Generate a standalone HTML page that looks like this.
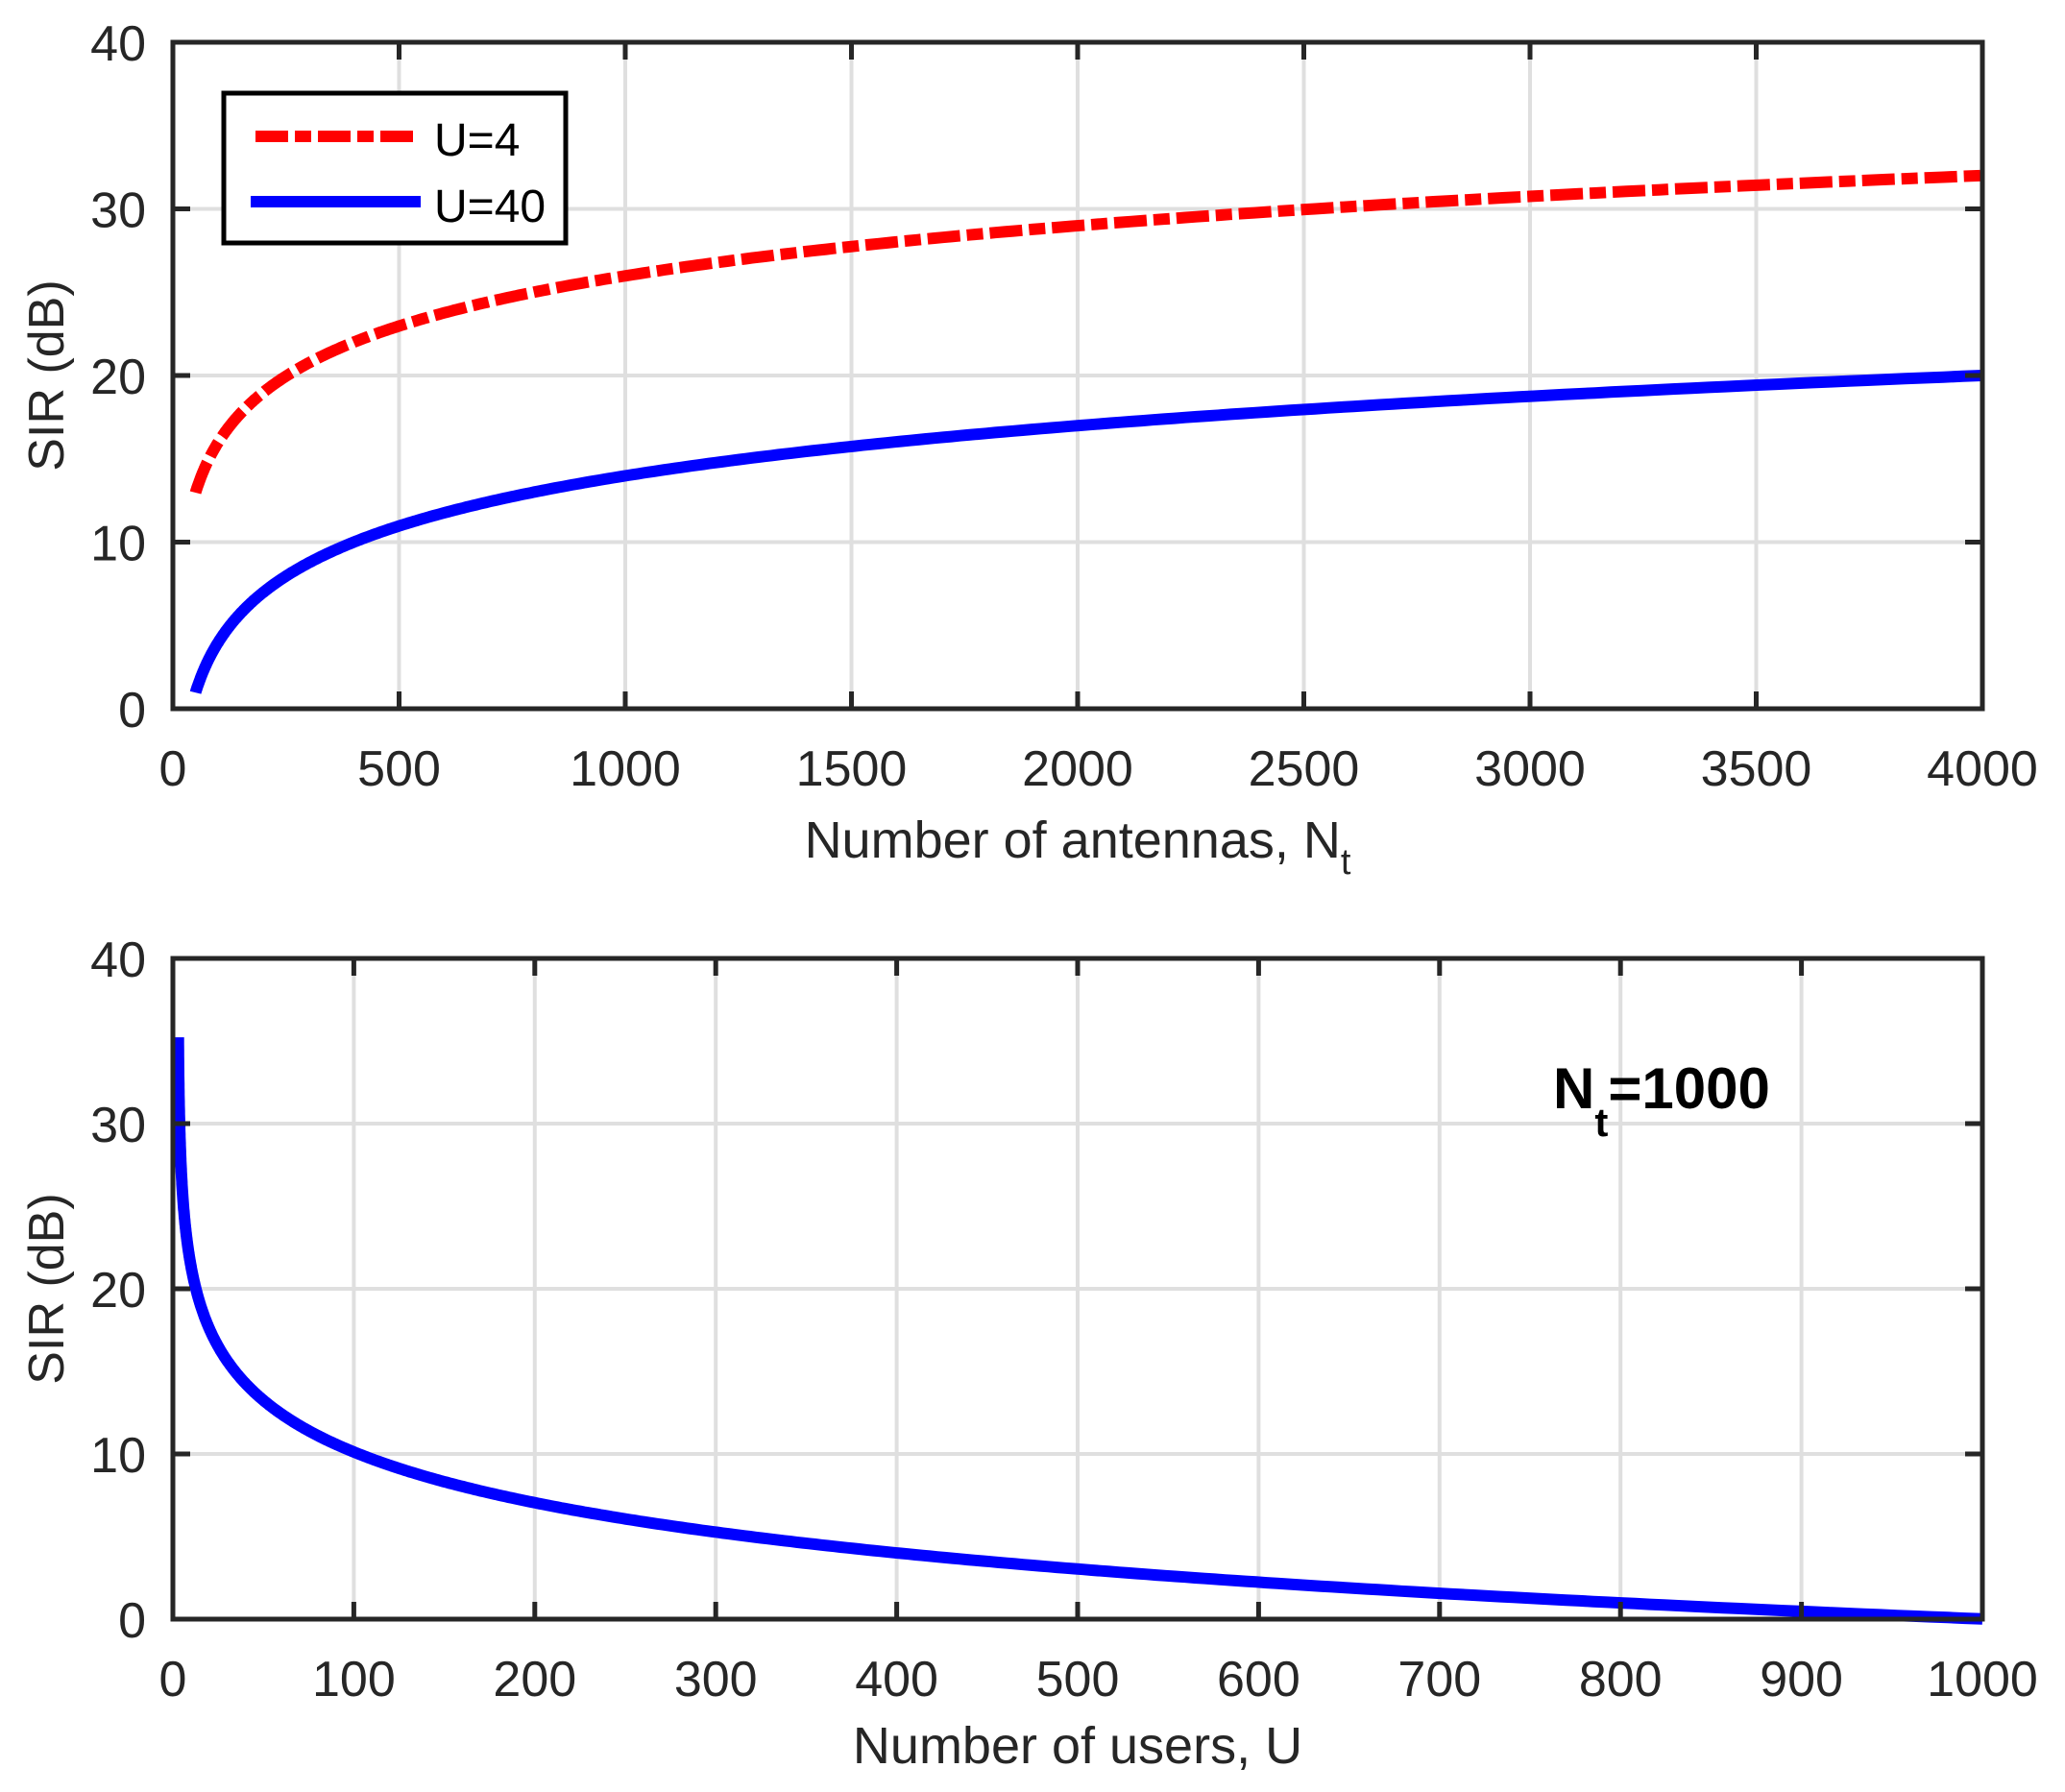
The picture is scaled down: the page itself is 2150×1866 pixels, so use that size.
<!DOCTYPE html>
<html><head><meta charset="utf-8"><style>
html,body{margin:0;padding:0;background:#fff;}
svg{display:block;}
text{font-family:"Liberation Sans",sans-serif;fill:#262626;}
</style></head><body>
<svg id="s" width="2150" height="1866" viewBox="0 0 2150 1866" xmlns="http://www.w3.org/2000/svg"></svg>
<script>
const s=document.getElementById('s');let h='';
const L=180,R=2064;
function axes(top,bot,xmax,xstep,ticks){
  const H=bot-top;
  for(let v=10;v<40;v+=10){const y=bot-v/40*H;h+=`<line x1="${L}" x2="${R}" y1="${y}" y2="${y}" stroke="#dfdfdf" stroke-width="4"/>`;}
  for(let i=1;i<ticks;i++){const x=L+i/ticks*(R-L);h+=`<line x1="${x}" x2="${x}" y1="${top}" y2="${bot}" stroke="#dfdfdf" stroke-width="4"/>`;}
}
function frame(top,bot,xmax,ticks){
  const H=bot-top;let o='';
  o+=`<rect x="${L}" y="${top}" width="${R-L}" height="${H}" fill="none" stroke="#262626" stroke-width="5"/>`;
  for(let v=0;v<=40;v+=10){const y=bot-v/40*H;
    o+=`<line x1="${L}" x2="${L+18}" y1="${y}" y2="${y}" stroke="#262626" stroke-width="5"/><line x1="${R-18}" x2="${R}" y1="${y}" y2="${y}" stroke="#262626" stroke-width="5"/>`;
    o+=`<text x="152" y="${y+19}" font-size="52" text-anchor="end">${v}</text>`;}
  for(let i=0;i<=ticks;i++){const x=L+i/ticks*(R-L);
    o+=`<line x1="${x}" x2="${x}" y1="${top}" y2="${top+18}" stroke="#262626" stroke-width="5"/><line x1="${x}" x2="${x}" y1="${bot-18}" y2="${bot}" stroke="#262626" stroke-width="5"/>`;
    o+=`<text x="${x}" y="${bot+80}" font-size="52" text-anchor="middle">${Math.round(i*xmax/ticks)}</text>`;}
  return o;
}
let T=44,B=738;
axes(T,B,4000,500,8);
function path(f,x0,x1,xmax,top,bot,n,log){let p='';for(let i=0;i<=n;i++){let x=log?x0*Math.pow(x1/x0,i/n):x0+(x1-x0)*i/n;const v=f(x);const px=L+x/xmax*(R-L),py=bot-v/40*(bot-top);p+=(i?'L':'M')+px.toFixed(1)+' '+py.toFixed(1);}return p;}
h+=`<path d="${path(n=>10*Math.log10(n/4)+2,50,4000,4000,T,B,400,true)}" fill="none" stroke="#ff0000" stroke-width="12" stroke-dasharray="34 7 17 7"/>`;
h+=`<path d="${path(n=>10*Math.log10(n/40),50,4000,4000,T,B,400,true)}" fill="none" stroke="#0000ff" stroke-width="12"/>`;
h+=frame(T,B,4000,8);
h+=`<rect x="233" y="97" width="356" height="156" fill="#fff" stroke="#000" stroke-width="5"/>`;
h+=`<line x1="266" x2="432" y1="142" y2="142" stroke="#ff0000" stroke-width="12" stroke-dasharray="34 7 17 7"/>`;
h+=`<line x1="261" x2="438" y1="210" y2="210" stroke="#0000ff" stroke-width="12"/>`;
h+=`<text x="452" y="162" font-size="48" style="fill:#000">U=4</text><text x="452" y="231" font-size="48" style="fill:#000">U=40</text>`;
h+=`<text x="1122" y="893" font-size="54" text-anchor="middle">Number of antennas, N<tspan font-size="38" dy="17">t</tspan></text>`;
h+=`<text transform="translate(66,391) rotate(-90)" font-size="52" text-anchor="middle">SIR (dB)</text>`;
T=998;B=1686;
axes(T,B,1000,100,10);
h+=`<path d="${path(u=>10*Math.log10(1000/(u-2.7)),3,1000,1000,T,B,600,true)}" fill="none" stroke="#0000ff" stroke-width="12"/>`;
h+=frame(T,B,1000,10);
h+=`<text x="1122" y="1836" font-size="54" text-anchor="middle">Number of users, U</text>`;
h+=`<text transform="translate(66,1342) rotate(-90)" font-size="52" text-anchor="middle">SIR (dB)</text>`;
h+=`<text x="1617" y="1154" font-size="60" font-weight="bold" style="fill:#000">N<tspan font-size="42" dy="29">t</tspan><tspan dy="-29">=1000</tspan></text>`;
s.innerHTML=h;
</script>
</body></html>
